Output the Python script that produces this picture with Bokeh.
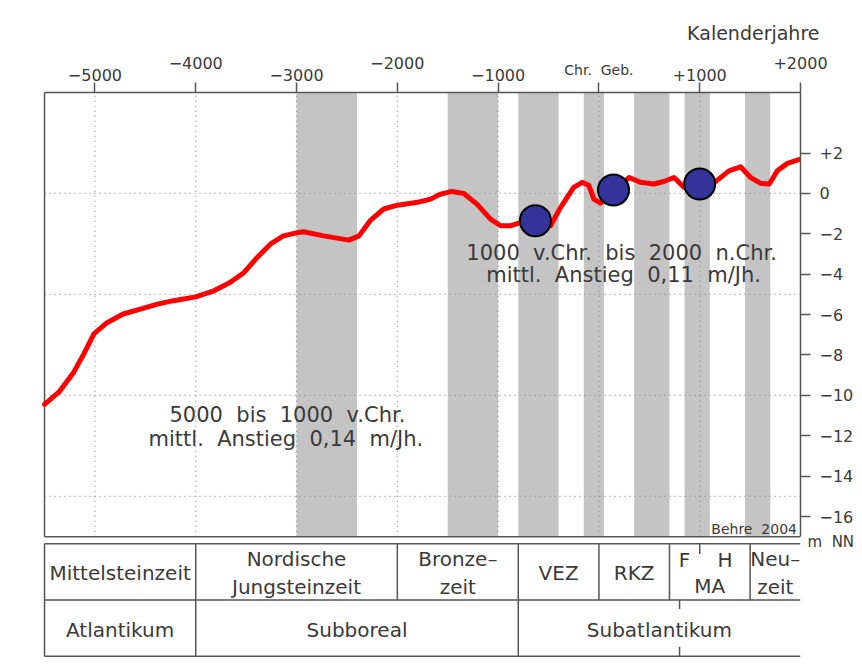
from bokeh.plotting import figure
from bokeh.models import Range1d, FixedTicker, LinearAxis, Label
from bokeh.core.properties import value
from bokeh.embed import file_html
from bokeh.resources import INLINE

# ---------------- data ----------------
years = [-5500, -5350, -5210, -5110, -5010, -4880, -4720, -4550, -4380, -4220,
         -4000, -3820, -3660, -3520, -3390, -3260, -3130, -2980, -2930, -2730,
         -2480, -2380, -2270, -2135, -2000, -1800, -1670, -1570, -1460, -1340,
         -1210, -1075, -975, -880, -780, -630, -480, -380, -250, -165,
         -100, -50, 15, 150, 300, 415, 545, 645, 745, 845,
         1000, 1160, 1290, 1405, 1505, 1605, 1690, 1770, 1870, 2000]
sea_level = [-10.45, -9.8, -8.85, -7.95, -6.95, -6.4, -5.97, -5.73, -5.48, -5.31,
             -5.12, -4.82, -4.41, -3.91, -3.17, -2.51, -2.1, -1.93, -1.9, -2.1,
             -2.31, -2.1, -1.35, -0.77, -0.58, -0.44, -0.28, -0.03, 0.1, 0.0,
             -0.53, -1.27, -1.6, -1.6, -1.44, -1.45, -1.6, -0.69, 0.3, 0.55,
             0.4, -0.28, -0.48, 0.15, 0.79, 0.55, 0.47, 0.59, 0.79, 0.3,
             0.3, 0.6, 1.12, 1.32, 0.79, 0.5, 0.47, 1.12, 1.49, 1.7]

marker_years = [-630, 145, 1000]
marker_levels = [-1.35, 0.17, 0.47]

band_start = [-3000, -1500, -800, -150, 350, 850, 1450]
band_end = [-2400, -1000, -400, 50, 700, 1100, 1700]

x_ticks = [-5000, -4000, -3000, -2000, -1000, 0, 1000, 2000]
x_labels_low = {-5000: "\u22125000", -3000: "\u22123000", -1000: "\u22121000", 1000: "+1000"}
x_labels_high = {-4000: "\u22124000", -2000: "\u22122000", 2000: "+2000"}
x_label_zero = {0: "Chr.\u00a0 Geb."}
y_ticks = [2, 0, -2, -4, -6, -8, -10, -12, -14, -16]
y_labels = ["+2", "0", "\u22122", "\u22124", "\u22126", "\u22128", "\u221210",
            "\u221212", "\u221214", "\u221216"]
y_unit_pos = -17.25
y_unit = "m\u00a0 NN"
grid_x = [-5000, -4000, -3000, -2000, -1000, 0, 1000]
grid_y = [0, -5, -10, -15]

x_min, x_max = -5500, 2000
y_min, y_max = -17, 5

culture_names = ["Mittelsteinzeit", "Nordische\nJungsteinzeit", "Bronze\u2013\nzeit",
                 "VEZ", "RKZ", "", "Neu\u2013\nzeit"]
culture_start = [-5500, -4000, -2000, -800, 0, 700, 1500]
culture_end = [-4000, -2000, -800, 0, 700, 1500, 2000]
ma_name = "MA"
ma_sub_names = ["F", "H"]
ma_sub_start = [700, 1000]
ma_sub_end = [1000, 1500]
climate_names = ["Atlantikum", "Subboreal", "Subatlantikum"]
climate_start = [-5500, -4000, -800]
climate_end = [-4000, -800, 2000]
climate_mark = 800

FONT = "DejaVu Sans"
TXT = "#3a3a3a"
LINE = "#555555"

# ---------------- figure ----------------
p = figure(x_range=Range1d(-5530, 2000), y_range=Range1d(-23.13, 5),
           frame_width=759, frame_height=568,
           min_border_left=41, min_border_right=56, min_border_top=92, min_border_bottom=2,
           x_axis_location="above", y_axis_location="right",
           title="Kalenderjahre",
           output_backend="svg", toolbar_location=None)
p.title.align = "right"
p.title.offset = -19
p.title.standoff = 19
p.title.text_font = FONT
p.title.text_font_size = "19px"
p.title.text_font_style = "normal"
p.title.text_color = TXT
p.outline_line_color = None
p.xgrid.visible = False
p.ygrid.visible = False
p.background_fill_color = "white"
p.border_fill_color = "white"
p.extra_y_ranges = {"table": Range1d(-0.0765, 10.03)}

# top axis (lower row of labels + all ticks)
ax = p.xaxis[0]
ax.ticker = FixedTicker(ticks=x_ticks)
ax.major_label_overrides = {t: x_labels_low.get(t, "") for t in x_ticks}
ax.bounds = (x_min, x_max)
ax.axis_line_color = LINE
ax.axis_line_width = 1.5
ax.major_tick_line_color = LINE
ax.major_tick_line_width = 1.5
ax.major_tick_out = 10
ax.major_tick_in = 0
ax.minor_tick_line_color = None
ax.major_label_standoff = 2
ax.major_label_text_font = FONT
ax.major_label_text_font_size = "16px"
ax.major_label_text_color = TXT

# second top axis (upper row of labels)
ax2 = LinearAxis(ticker=FixedTicker(ticks=list(x_labels_high)),
                 major_label_overrides=x_labels_high,
                 axis_line_color=None, major_tick_line_color=None,
                 minor_tick_line_color=None, major_tick_out=0, major_tick_in=0,
                 major_label_standoff=-3,
                 major_label_text_font=FONT, major_label_text_font_size="16px",
                 major_label_text_color=TXT)
p.add_layout(ax2, "above")

# third top axis ("Chr. Geb.")
ax3 = LinearAxis(ticker=FixedTicker(ticks=list(x_label_zero)),
                 major_label_overrides=x_label_zero,
                 axis_line_color=None, major_tick_line_color=None,
                 minor_tick_line_color=None, major_tick_out=0, major_tick_in=0,
                 major_label_standoff=-24,
                 major_label_text_font=FONT, major_label_text_font_size="14px",
                 major_label_text_color=TXT)
p.add_layout(ax3, "above")

# right axis
ay = p.yaxis[0]
ay.ticker = FixedTicker(ticks=y_ticks)
ay.major_label_overrides = dict(zip(y_ticks, y_labels))
ay.bounds = (y_min, y_max)
ay.axis_line_color = LINE
ay.axis_line_width = 1.5
ay.major_tick_line_color = LINE
ay.major_tick_line_width = 1.5
ay.major_tick_out = 10
ay.major_tick_in = 0
ay.minor_tick_line_color = None
ay.major_label_standoff = 9
ay.major_label_text_font = FONT
ay.major_label_text_font_size = "16px"
ay.major_label_text_color = TXT

# unit label ("m NN") as a second right axis
ay2 = LinearAxis(ticker=FixedTicker(ticks=[y_unit_pos]),
                 major_label_overrides={y_unit_pos: y_unit},
                 axis_line_color=None, major_tick_line_color=None,
                 minor_tick_line_color=None, major_tick_out=0, major_tick_in=0,
                 major_label_standoff=-49,
                 major_label_text_font=FONT, major_label_text_font_size="15px",
                 major_label_text_color=TXT)
p.add_layout(ay2, "right")

# bands
p.quad(left=band_start, right=band_end, bottom=y_min, top=y_max,
       fill_color="#c4c4c4", line_color=None)

# dotted grid
p.segment(x0=grid_x, y0=[y_min] * len(grid_x), x1=grid_x, y1=[y_max] * len(grid_x),
          line_color="#8a8a8a", line_width=1.2, line_dash="1 4")
p.segment(x0=[x_min] * len(grid_y), y0=grid_y, x1=[x_max] * len(grid_y), y1=grid_y,
          line_color="#8a8a8a", line_width=1.2, line_dash="1 4")

# plot left & bottom border
p.segment(x0=[x_min, x_min], y0=[y_min, y_min], x1=[x_min, x_max], y1=[y_max, y_min],
          line_color=LINE, line_width=1.5)

# sea level curve
p.line(years, sea_level, line_color="#ff0000", line_width=5, line_join="round",
       line_cap="round")
p.scatter(marker_years, marker_levels, size=31, fill_color="#333399",
          line_color="black", line_width=2)

# texts in plot
def lab(x, y, t, size, align="center", base="alphabetic"):
    p.add_layout(Label(x=x, y=y, text=t, text_align=align,
                       text_baseline=base, text_font=FONT,
                       text_font_size=size, text_color=TXT))

S = "\u00a0 "
lab(-3090, -10.99, S.join(["5000", "bis", "1000", "v.Chr."]), "21px")
lab(-3105, -12.18, S.join(["mittl.", "Anstieg", "0,14", "m/Jh."]), "21px")
lab(225, -2.93, S.join(["1000", "v.Chr.", "bis", "2000", "n.Chr."]), "21px")
lab(245, -4.05, S.join(["mittl.", "Anstieg", "0,11", "m/Jh."]), "21px")
lab(1965, -16.6, S.join(["Behre", "2004"]), "14px", align="right")

# ---------------- table ----------------
T = "table"
p.segment(x0=[x_min] * 3, y0=[2, 1, 0], x1=[x_max] * 3, y1=[2, 1, 0],
          line_color=LINE, line_width=1.5, y_range_name=T)
p.segment(x0=[x_min], y0=[0], x1=[x_min], y1=[2], line_color=LINE, line_width=1.5,
          y_range_name=T)
p.segment(x0=culture_start[1:], y0=[1] * (len(culture_start) - 1),
          x1=culture_start[1:], y1=[2] * (len(culture_start) - 1),
          line_color=LINE, line_width=1.5, y_range_name=T)
p.segment(x0=climate_start[1:], y0=[0] * (len(climate_start) - 1),
          x1=climate_start[1:], y1=[1] * (len(climate_start) - 1),
          line_color=LINE, line_width=1.5, y_range_name=T)
# small marks
p.segment(x0=[ma_sub_start[1], climate_mark, climate_mark],
          y0=[2, 1, 0], x1=[ma_sub_start[1], climate_mark, climate_mark],
          y1=[1.82, 0.84, 0.17], line_color=LINE, line_width=1.5, y_range_name=T)

TF = "20px"
cx = [(a + b) / 2 for a, b in zip(culture_start, culture_end)]
p.text(x=cx, y=[1.48] * len(cx), text=culture_names, text_align="center",
       text_baseline="middle", text_font=value(FONT), text_font_size=TF,
       text_color=TXT, text_line_height=1.2, y_range_name=T)
mx = [(a + b) / 2 for a, b in zip(ma_sub_start, ma_sub_end)]
p.text(x=mx, y=[1.71] * 2, text=ma_sub_names, text_align="center",
       text_baseline="middle", text_font=value(FONT), text_font_size=TF,
       text_color=TXT, y_range_name=T)
p.text(x=[(culture_start[5] + culture_end[5]) / 2], y=[1.25], text=[ma_name],
       text_align="center", text_baseline="middle", text_font=value(FONT),
       text_font_size=TF, text_color=TXT, y_range_name=T)
kx = [(a + b) / 2 for a, b in zip(climate_start, climate_end)]
p.text(x=kx, y=[0.47] * len(kx), text=climate_names, text_align="center",
       text_baseline="middle", text_font=value(FONT), text_font_size=TF,
       text_color=TXT, y_range_name=T)

open("out.html", "w").write(file_html(p, INLINE))
